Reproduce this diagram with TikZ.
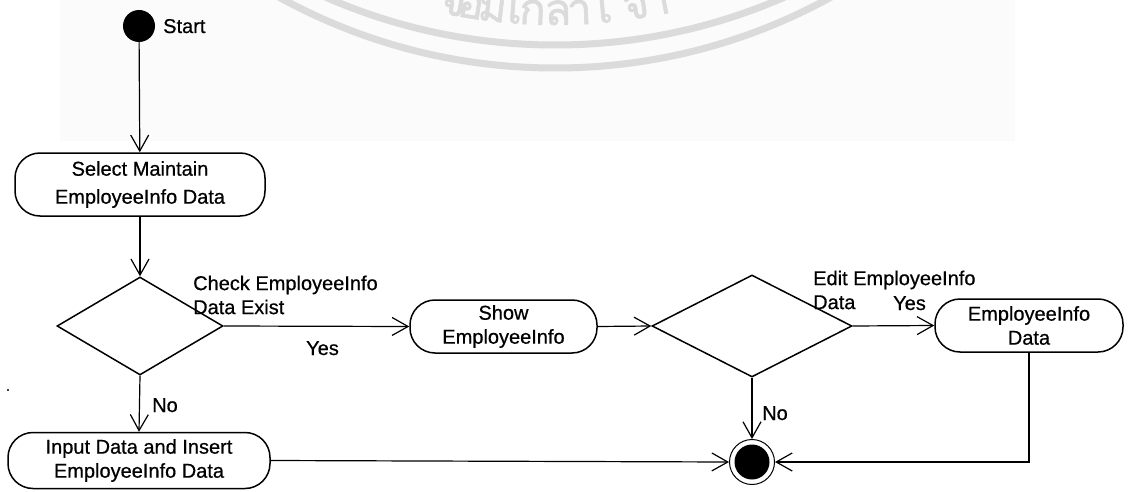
\documentclass[tikz,border=0pt]{standalone}
\usepackage{fontspec}
\setmainfont{Liberation Sans}[FakeBold=0.6]
\newfontfamily\thaifont[Script=Thai,FakeBold=1.2]{Loma}
\usetikzlibrary{shapes.geometric,arrows.meta}
\begin{document}
\begin{tikzpicture}[x=1pt,y=-1pt,
  every node/.style={font=\fontsize{20}{24}\selectfont},
  action/.style={draw, line width=1.5pt, rounded corners=25pt, align=center, inner sep=0pt},
  decision/.style={draw, diamond, line width=1.5pt, inner sep=0pt},
  flow/.style={draw, line width=1.2pt, -{Straight Barb[length=16pt,width=18pt,line width=1.2pt]}},
  lbl/.style={inner sep=0pt, anchor=base west},
  multilbl/.style={inner sep=0pt, anchor=north west, align=left},
  wm/.style={color=black!14},
  wmglyph/.style={wm, inner sep=0pt, anchor=base, font=\thaifont\fontsize{44}{44}\selectfont},
]
\useasboundingbox (0,0) rectangle (1132,492);
\clip (0,0) rectangle (1132,492);

% faint scanned page tint behind the seal
\fill[black!1.5] (60,0) rectangle (1015,141);

% university seal (lower part of the rings and lettering)
\draw[wm, line width=7pt] (555,-527) circle[radius=572];
\draw[wm, line width=7pt] (555,-504) circle[radius=572];
\node[wmglyph, rotate=-10.8] (w1) at (451,15.1) {จ};
\node[wmglyph, rotate=-9.0]  (w2) at (469,18.1) {อ};
\node[wmglyph, rotate=-6.7]  (w3) at (491,21.2) {ม};
\node[wmglyph, rotate=-4.2]  (w4) at (514,23.5) {เ};
\node[wmglyph, rotate=-2.4]  (w5) at (532,24.5) {ก};
\node[wmglyph, rotate=0.3]   (w6) at (558,25.0) {ล};
\node[wmglyph, rotate=2.6]   (w7) at (580,24.4) {า};
\node[wmglyph, rotate=5.3]   (w8) at (606,22.6) {เ};
\node[wmglyph, rotate=8.8]   (w9) at (638,18.6) {จ};
\node[wmglyph, rotate=11.4]  (w10) at (660,14.8) {า};

% stray mark on the page
\fill (8,390) circle[radius=1.2];

% activity nodes
\node[circle, fill=black, minimum size=32pt, inner sep=0pt] (start) at (139,26) {};
\node[lbl] (startlbl) at (163,33) {Start};

\node[action, minimum width=250pt, minimum height=63pt, font=\fontsize{20}{28}\selectfont]
  (select) at (140,184.5) {Select Maintain\\EmployeeInfo Data};

\node[decision, minimum width=166pt, minimum height=98pt] (d1) at (140,326) {};
\node[multilbl] (d1lbl) at (193,275.4) {Check EmployeeInfo\\Data Exist};

\node[action, minimum width=187pt, minimum height=53pt] (show) at (503.5,326.5) {Show\\EmployeeInfo};

\node[decision, minimum width=200pt, minimum height=102pt] (d2) at (752,326) {};
\node[multilbl] (d2lbl) at (813,270.4) {Edit EmployeeInfo\\Data};

\node[action, minimum width=188pt, minimum height=53pt] (empdata) at (1029,325.5) {EmployeeInfo\\Data};

\node[action, minimum width=262pt, minimum height=56pt] (input) at (139,460.5) {Input Data and Insert\\EmployeeInfo Data};

\node[circle, draw, line width=1pt, minimum size=45pt, inner sep=0pt] (end) at (752,462) {};
\fill (end.center) circle[radius=17.5];

% guard labels
\node[lbl] (yes1) at (306,355) {Yes};
\node[lbl] (no1) at (152,412) {No};
\node[lbl] (yes2) at (893,310) {Yes};
\node[lbl] (no2) at (762,420) {No};

% control flow
\draw[flow] (start) -- (select);
\draw[flow] (select) -- (d1);
\draw[flow] (d1.east) -- (show.west);
\draw[flow] (d1.south) -- (input.north);
\draw[flow] (show.east) -- (d2.west);
\draw[flow] (d2.east) -- (empdata.west);
\draw[flow] (d2.south) -- (end.north);
\draw[flow] (input.east) -- (end.west);
\draw[flow] (empdata.south) |- (end.east);
\end{tikzpicture}
\end{document}
